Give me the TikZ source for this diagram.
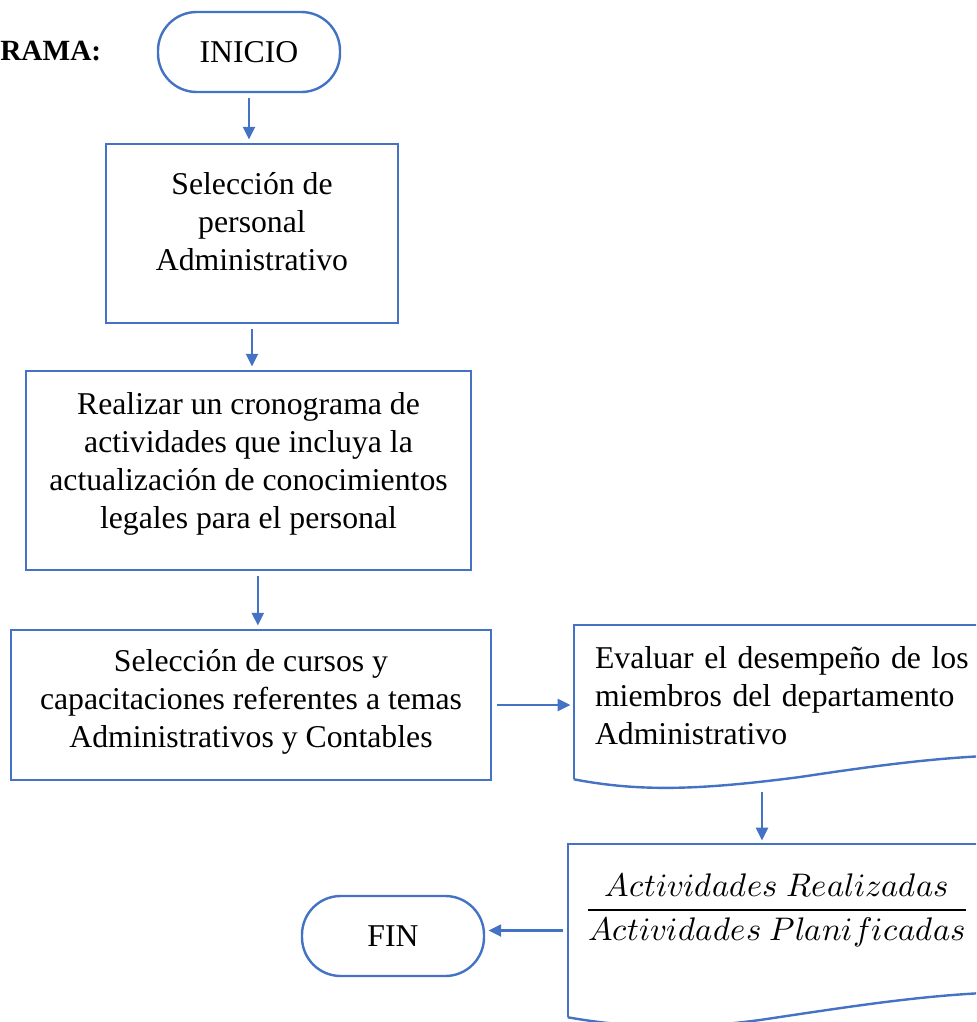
\documentclass[tikz,border=0pt]{standalone}
\usepackage{fontspec}
\setmainfont{Liberation Serif}
\usepackage{unicode-math}
\setmathfont{Latin Modern Math}
\usetikzlibrary{arrows.meta}
\definecolor{flowblue}{RGB}{68,114,196}

\begin{document}
\begin{tikzpicture}[x=0.75pt,y=0.75pt,yscale=-1,xscale=1,
  font=\fontsize{23.8}{28.5}\selectfont,
  flowline/.style={draw=flowblue,line width=1.8pt},
  flowbox/.style={flowline,rectangle,align=center,inner sep=0.75pt},
  terminal/.style={flowbox,rounded corners=29pt,minimum width=136.5pt,minimum height=60pt},
  docbox/.style={rectangle,inner sep=0.75pt},
  flowarrow/.style={flowline,-{Triangle[length=9.5pt,width=9pt]},shorten <=3.75pt,shorten >=2.5pt}]
\useasboundingbox (0,0) rectangle (976,1022);
\clip (0,0) rectangle (976,1022);

% Text Node
\node [anchor=west,inner sep=0pt,font=\fontsize{22}{28.5}\selectfont\bfseries] (titulo) at (0,51) {RAMA:};

%Shape: Terminal
\node [terminal] (inicio) at (249,52) {INICIO};
%Shape: Rectangle
\node [flowbox,minimum width=219pt,minimum height=134.25pt,text depth=18pt] (seleccion) at (252,233.5) {Selección de\\personal\\Administrativo};
%Shape: Rectangle
\node [flowbox,minimum width=333.75pt,minimum height=149.25pt,text depth=15.5pt] (cronograma) at (248.5,470.5) {Realizar un cronograma de\\actividades que incluya la\\actualización de conocimientos\\legales para el personal};
%Shape: Rectangle
\node [flowbox,minimum width=360pt,minimum height=112.5pt,text depth=9.5pt] (cursos) at (251,705) {Selección de cursos y\\capacitaciones referentes a temas\\Administrativos y Contables};

%Shape: Document
\node [docbox,minimum width=327pt,minimum height=115.5pt,text width=295.5pt,inner xsep=15.75pt,align=left,text depth=67.5pt] (eval) at (792,702) {Evaluar el desempeño de los\\miembros del departamento\\Administrativo};
\draw [flowline] (eval.south west) -- (eval.north west) -- (eval.north east) ;
\draw [flowline] (eval.south west) .. controls (640,792) and (700,790) .. (800,777) .. controls (880,765) and (940,757) .. (1010,755) ;

%Shape: Document
\node [docbox,minimum width=331.5pt,minimum height=129.75pt] (ratio) at (789,930.5) {};
\draw [flowline] (ratio.south west) -- (ratio.north west) -- (ratio.north east) ;
\draw [flowline] (ratio.south west) .. controls (640,1030) and (700,1028) .. (760,1020) .. controls (860,1005) and (930,994) .. (1010,992) ;
% Text Node
\node [inner sep=0.75pt,font=\fontsize{24.5}{28.5}\selectfont] (cociente) at (777,910) {$\displaystyle\frac{Actividades\ Realizadas}{Actividades\ Planificadas}$};

%Shape: Terminal
\node [terminal] (fin) at (393,936) {FIN};

%Straight Lines
\draw [flowarrow] (inicio.south) -- (inicio.south |- seleccion.north) ;
\draw [flowarrow] (seleccion.south) -- (seleccion.south |- cronograma.north) ;
\draw [flowarrow] ([xshift=7pt]cronograma.south) -- ([xshift=7pt]cronograma.south |- cursos.north) ;
\draw [flowarrow] (cursos.east) -- (cursos.east -| eval.west) ;
\coordinate (evalout) at (762,787) ;
\draw [flowarrow] (evalout) -- (evalout |- ratio.north) ;
\draw [flowarrow] (ratio.west) -- (ratio.west -| fin.east) ;

\end{tikzpicture}
\end{document}
